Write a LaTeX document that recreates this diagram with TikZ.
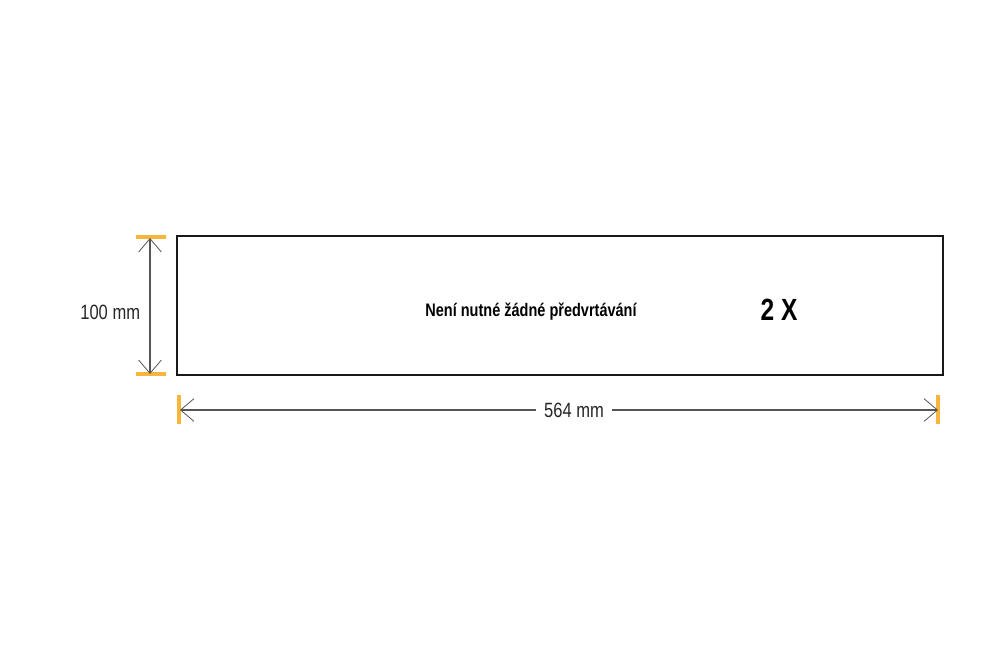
\documentclass[tikz,border=0pt]{standalone}
\usepackage{fontspec}
\setmainfont[FakeStretch=0.8]{Liberation Sans}
\usetikzlibrary{arrows.meta}

\definecolor{tickorange}{RGB}{247,181,60}
\definecolor{dimgray}{RGB}{85,85,85}

\begin{document}
\begin{tikzpicture}[x=0.75pt,y=0.75pt,yscale=-1,xscale=1,
    barb/.tip={Straight Barb[length=10pt,width=17pt,line width=0.6pt]},
    dimline/.style={draw=dimgray, line width=0.8pt, barb-barb},
    tick/.style={draw=tickorange, line width=3pt},
    dimtext/.style={font=\fontsize{15.5}{18}\selectfont, text=black!85, inner sep=2pt}]
    %set diagram: 991 x 661
    \useasboundingbox (0,0) rectangle (991,661);

    %Board
    \draw[line width=1.8pt, draw=black!90] (177,236) rectangle (943,375);

    %Orange ticks, height
    \coordinate (htop) at (150,238);
    \coordinate (hbot) at (150,374);
    \draw[tick] (136,237) -- (166,237);
    \draw[tick] (136,374) -- (166,374);

    %Orange ticks, length
    \coordinate (wl) at (180,410);
    \coordinate (wr) at (938,410);
    \draw[tick] (179,395) -- (179,424);
    \draw[tick] (938,395) -- (938,424);

    % Text Node
    \node[dimtext, anchor=east] (hlabel) at (143,312) {100 mm};
    % Text Node
    \node[dimtext, fill=white, inner xsep=6pt] (wlabel) at (574,410) {564 mm};

    %Dimension lines
    \draw[dimline] (htop) -- (hbot);
    \draw[dimline, -barb] (wlabel.east) -- (wr);
    \draw[dimline, -barb] (wlabel.west) -- (wl);

    % Text Node
    \node[font=\bfseries\fontsize{13.6}{16}\selectfont] (note) at (531,312) {Není nutné žádné předvrtávání};
    % Text Node
    \node[font=\bfseries\fontsize{23}{26}\selectfont] (count) at (779,310) {2 X};
\end{tikzpicture}
\end{document}
